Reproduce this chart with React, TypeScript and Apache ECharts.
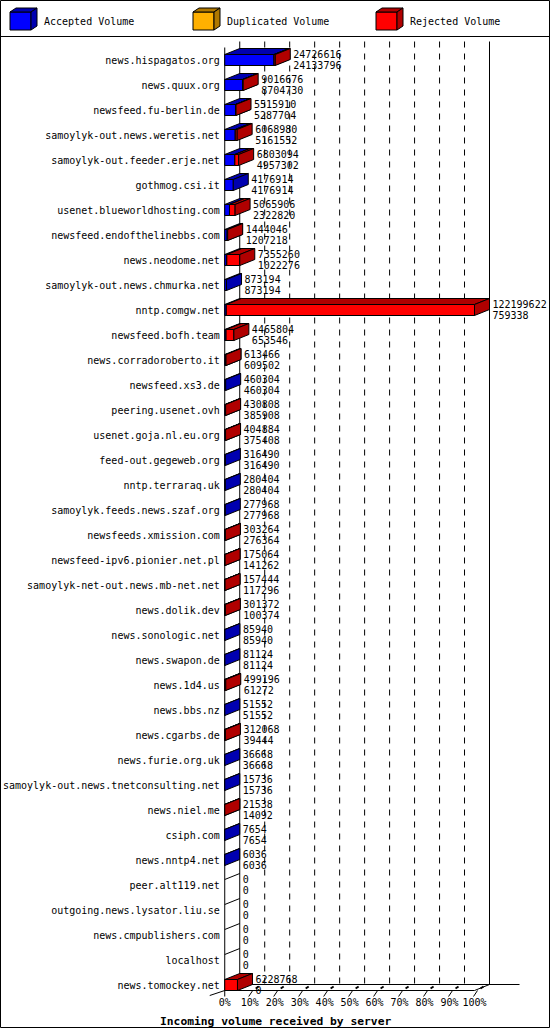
import { useEffect, useRef } from "react";
import * as echarts from "echarts";

const servers = [
  "news.hispagatos.org",
  "news.quux.org",
  "newsfeed.fu-berlin.de",
  "samoylyk-out.news.weretis.net",
  "samoylyk-out.feeder.erje.net",
  "gothmog.csi.it",
  "usenet.blueworldhosting.com",
  "newsfeed.endofthelinebbs.com",
  "news.neodome.net",
  "samoylyk-out.news.chmurka.net",
  "nntp.comgw.net",
  "newsfeed.bofh.team",
  "news.corradoroberto.it",
  "newsfeed.xs3.de",
  "peering.usenet.ovh",
  "usenet.goja.nl.eu.org",
  "feed-out.gegeweb.org",
  "nntp.terraraq.uk",
  "samoylyk.feeds.news.szaf.org",
  "newsfeeds.xmission.com",
  "newsfeed-ipv6.pionier.net.pl",
  "samoylyk-net-out.news.mb-net.net",
  "news.dolik.dev",
  "news.sonologic.net",
  "news.swapon.de",
  "news.1d4.us",
  "news.bbs.nz",
  "news.cgarbs.de",
  "news.furie.org.uk",
  "samoylyk-out.news.tnetconsulting.net",
  "news.niel.me",
  "csiph.com",
  "news.nntp4.net",
  "peer.alt119.net",
  "outgoing.news.lysator.liu.se",
  "news.cmpublishers.com",
  "localhost",
  "news.tomockey.net",
];

// total incoming volume (upper label)
const offered = [
  24726616, 9016676, 5515910, 6068980, 6803094, 4176914, 5065906, 1444046,
  7355260, 873194, 122199622, 4465804, 613466, 460304, 430808, 404884, 316490,
  280404, 277968, 303264, 175064, 157444, 301372, 85940, 81124, 499196, 51552,
  312068, 36668, 15736, 21538, 7654, 6036, 0, 0, 0, 0, 6228768,
];

// accepted volume (lower label)
const accepted = [
  24133796, 8704730, 5287704, 5161552, 4957302, 4176914, 2322820, 1207218,
  1022276, 873194, 759338, 653546, 609502, 460304, 385908, 375408, 316490,
  280404, 277968, 276364, 141262, 117296, 100374, 85940, 81124, 61272, 51552,
  39444, 36668, 15736, 14092, 7654, 6036, 0, 0, 0, 0, 0,
];

const duplicated = [
  0, 0, 0, 0, 0, 0, 0, 0, 0, 0, 0, 0, 0, 0, 0, 0, 0, 0, 0, 0, 0, 0, 0, 0, 0, 0,
  0, 0, 0, 0, 0, 0, 0, 0, 0, 0, 0, 0,
];

const percentTicks = [0, 10, 20, 30, 40, 50, 60, 70, 80, 90, 100];

const legendNames = ["Accepted Volume", "Duplicated Volume", "Rejected Volume"];
const frontColors = ["#0000ff", "#ffb000", "#ff0000"];
const shadeColors = ["#0000b0", "#b07800", "#b00000"];

const MONO = '"DejaVu Sans Mono", monospace';
const DX = 15;
const DY = 6;
const BAR_H = 11;

export default function App() {
  const chartRef = useRef<HTMLDivElement>(null);

  useEffect(() => {
    if (!chartRef.current) return;
    document.body.style.margin = "0";

    const chart = echarts.init(chartRef.current, null, { renderer: "svg" });
    const maxVol = Math.max(...offered);
    const pct = (v: number) => (v / maxVol) * 100;

    const barData = servers.map((_, i) => {
      const rej = offered[i] - accepted[i] - duplicated[i];
      return [i, pct(accepted[i]), pct(duplicated[i]), pct(rej), offered[i], accepted[i]];
    });

    const line = (x1: number, y1: number, x2: number, y2: number, extra: any = {}) => ({
      type: "line",
      shape: { x1, y1, x2, y2 },
      style: { stroke: "#000", lineWidth: 1, ...extra },
    });

    const renderFrame = (params: any, api: any) => {
      if (params.dataIndex !== 0) return;
      const n = servers.length;
      const [xL, yFirst] = api.coord([0, 0]);
      const [xR, yLast] = api.coord([100, n - 1]);
      const half = api.size([0, 1])[1] / 2;
      const frontTop = yFirst - half;
      const floor = yLast + BAR_H / 2;
      const children: any[] = [];

      percentTicks.slice(1, -1).forEach((t) => {
        const x = api.coord([t, 0])[0] + DX;
        children.push(line(x, frontTop - DY, x, floor - DY, { lineDash: [6, 6] }));
      });
      children.push(line(xL + DX, frontTop - DY, xL + DX, floor - DY));
      children.push(line(xR + DX, frontTop - DY, xR + DX, floor - DY));
      children.push(line(xL + DX, floor - DY, xR + DX + 30, floor - DY));
      children.push(line(xL, frontTop, xL, floor + 6));
      children.push(line(xL, floor, xR, floor));
      children.push(line(xR, floor, xR + DX, floor - DY));
      children.push(line(xL - 15, floor + 5, xL, floor));
      percentTicks.slice(1).forEach((t) => {
        const x = api.coord([t, 0])[0];
        children.push(line(x - 1, floor + 6, x + 3, floor));
        children.push(line(x + 6, floor - 2, x + 9, floor - 4, { lineWidth: 2 }));
      });
      return { type: "group", children };
    };

    const renderBar = (_params: any, api: any) => {
      const i = api.value(0);
      const segs = [api.value(1), api.value(2), api.value(3)];
      const yc = api.coord([0, i])[1];
      const yt = yc - BAR_H / 2;
      const yb = yc + BAR_H / 2;
      const children: any[] = [];
      let cum = 0;
      let xEnd = api.coord([0, i])[0];
      if (segs[0] + segs[1] + segs[2] === 0) {
        children.push(line(xEnd, yt, xEnd + DX, yt - DY));
      }
      segs.forEach((v: number, k: number) => {
        if (v <= 0) return;
        const xa = api.coord([cum, i])[0];
        cum += v;
        const xb = api.coord([cum, i])[0];
        xEnd = xb;
        const st = (fill: string) => ({ fill, stroke: "#000", lineWidth: 1 });
        children.push({
          type: "polygon",
          shape: { points: [[xa, yt], [xb, yt], [xb, yb], [xa, yb]] },
          style: st(frontColors[k]),
        });
        children.push({
          type: "polygon",
          shape: { points: [[xa, yt], [xb, yt], [xb + DX, yt - DY], [xa + DX, yt - DY]] },
          style: st(shadeColors[k]),
        });
        children.push({
          type: "polygon",
          shape: { points: [[xb, yt], [xb + DX, yt - DY], [xb + DX, yb - DY], [xb, yb]] },
          style: st(shadeColors[k]),
        });
      });
      children.push({
        type: "text",
        x: xEnd + DX + 3,
        y: yt - DY,
        style: {
          text: `${api.value(4)}\n${api.value(5)}`,
          fill: "#000",
          fontFamily: MONO,
          fontSize: 10,
          lineHeight: 11,
          verticalAlign: "top",
          align: "left",
        },
      });
      return { type: "group", children };
    };

    const legendGraphics: any[] = [];
    const legendX = [10, 193, 376];
    legendNames.forEach((name, k) => {
      const x = legendX[k];
      const y = 12;
      const w = 21;
      const h = 18;
      const st = (fill: string) => ({ fill, stroke: "#000", lineWidth: 1 });
      legendGraphics.push(
        {
          type: "polygon",
          shape: { points: [[x, y], [x + w, y], [x + w, y + h], [x, y + h]] },
          style: st(frontColors[k]),
        },
        {
          type: "polygon",
          shape: { points: [[x, y], [x + w, y], [x + w + 6, y - 4], [x + 6, y - 4]] },
          style: st(shadeColors[k]),
        },
        {
          type: "polygon",
          shape: { points: [[x + w, y], [x + w + 6, y - 4], [x + w + 6, y + h - 4], [x + w, y + h]] },
          style: st(shadeColors[k]),
        },
        {
          type: "text",
          x: x + 34,
          y: 21,
          style: {
            text: name,
            fill: "#000",
            fontFamily: MONO,
            fontSize: 10,
            verticalAlign: "middle",
          },
        }
      );
    });

    chart.setOption({
      animation: false,
      backgroundColor: "#fff",
      title: {
        text: "Incoming volume received by server",
        left: 155,
        top: 1011,
        textStyle: { fontFamily: MONO, fontSize: 11.3, fontWeight: "bold", color: "#000" },
      },
      grid: { left: 224.5, top: 47.5, width: 250, height: 950 },
      xAxis: {
        type: "value",
        min: 0,
        max: 100,
        interval: 10,
        axisLine: { show: false },
        axisTick: { show: false },
        splitLine: { show: false },
        axisLabel: {
          formatter: "{value}%",
          fontFamily: MONO,
          fontSize: 10,
          color: "#000",
          margin: 0,
        },
      },
      yAxis: {
        type: "category",
        inverse: true,
        data: servers,
        axisLine: { show: false },
        axisTick: { show: false },
        axisLabel: { fontFamily: MONO, fontSize: 10, color: "#000", margin: 5, interval: 0 },
      },
      graphic: [
        {
          type: "rect",
          shape: { x: 0.5, y: 0.5, width: 549, height: 1027 },
          style: { fill: "none", stroke: "#000", lineWidth: 1 },
          silent: true,
        },
        {
          type: "line",
          shape: { x1: 0, y1: 36.5, x2: 550, y2: 36.5 },
          style: { stroke: "#000", lineWidth: 1 },
          silent: true,
        },
        { type: "group", children: legendGraphics },
      ],
      series: [
        {
          type: "custom",
          z: 1,
          silent: true,
          renderItem: renderFrame,
          encode: { x: 1, y: 0 },
          data: [[0, 0]],
        },
        {
          type: "custom",
          z: 2,
          silent: true,
          renderItem: renderBar,
          encode: { x: 1, y: 0 },
          data: barData,
        },
      ],
    });

    return () => {
      chart.dispose();
    };
  }, []);

  return <div ref={chartRef} style={{ width: "550px", height: "1030px" }} />;
}
